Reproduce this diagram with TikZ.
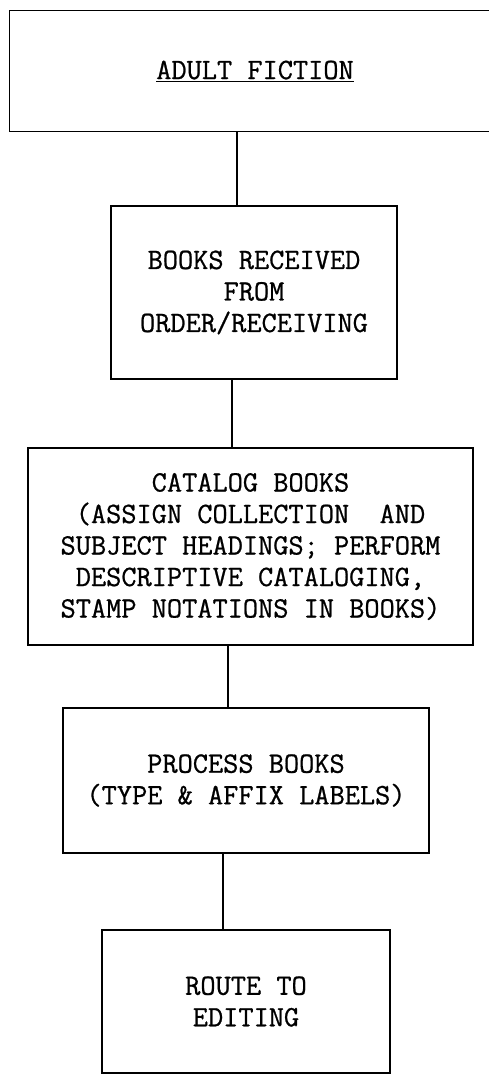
\documentclass[tikz,border=0pt]{standalone}
\usepackage{fontspec}
\newfontfamily\typewriter{Latin Modern Mono}[FakeBold=0.8]
\begin{document}
\begin{tikzpicture}[x = 1pt, y = -1pt,
		box/.style = {draw, line width = 1.2pt, align = center, inner sep = 0pt,
			font = \fontsize{29.5}{31.5}\selectfont\typewriter}]
	\useasboundingbox (0,0) rectangle (489,1076);
	\node[box, draw = none, minimum width = 470pt, minimum height = 120pt] (fiction) at (255,71) {\underline{ADULT FICTION}};
	\draw[line width = 1.2pt] ([xshift = -10pt]fiction.north west) rectangle ([xshift = 20pt]fiction.south east);
	\node[box, minimum width = 286pt, minimum height = 173pt] (received) at (254,292.5) {BOOKS RECEIVED\\FROM\\ORDER/RECEIVING};
	\node[box, minimum width = 445pt, minimum height = 197pt] (catalog) at (250.5,546.5) {CATALOG BOOKS\\(ASSIGN COLLECTION~ AND\\SUBJECT HEADINGS; PERFORM\\DESCRIPTIVE CATALOGING,\\STAMP NOTATIONS IN BOOKS)};
	\node[box, minimum width = 366pt, minimum height = 145pt] (process) at (246,780.5) {PROCESS BOOKS\\(TYPE \& AFFIX LABELS)};
	\node[box, minimum width = 288pt, minimum height = 143pt] (route) at (246,1001.5) {ROUTE TO\\EDITING};
	% connectors
	\draw[line width = 1.2pt] ([xshift = -18pt]fiction.south) -- ([xshift = -18pt]fiction.south |- received.north);
	\draw[line width = 1.2pt] ([xshift = -22pt]received.south) -- ([xshift = -22pt]received.south |- catalog.north);
	\draw[line width = 1.2pt] ([xshift = -22.5pt]catalog.south) -- ([xshift = -22.5pt]catalog.south |- process.north);
	\draw[line width = 1.2pt] ([xshift = -23pt]process.south) -- ([xshift = -23pt]process.south |- route.north);
\end{tikzpicture}
\end{document}
